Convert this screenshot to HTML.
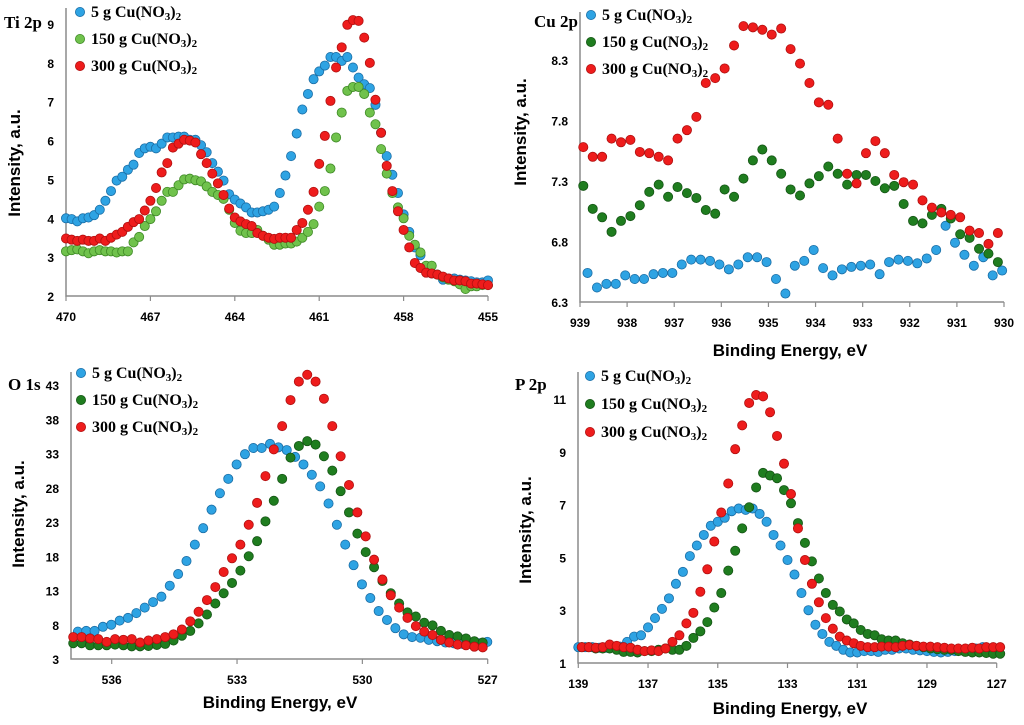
<!DOCTYPE html>
<html><head><meta charset="utf-8"><style>
body{margin:0;background:#fff;}
svg{display:block;}
.tk{font-family:"Liberation Sans",sans-serif;font-weight:bold;font-size:12px;fill:#000;}
.lg{font-family:"Liberation Serif",serif;font-weight:bold;font-size:16px;fill:#000;}
.tt{font-family:"Liberation Serif",serif;font-weight:bold;font-size:17px;fill:#000;}
.ax{font-family:"Liberation Sans",sans-serif;font-weight:bold;font-size:17px;fill:#000;}
</style></head><body>
<svg id="chart" width="1024" height="725" viewBox="0 0 1024 725" xmlns="http://www.w3.org/2000/svg"></svg>
<script>
// Ti 2p (x from 470 step -0.2)
const tiBlue=[4.0,3.98,3.92,4.0,4.02, 4.08,4.22,4.45,4.7,4.97, 5.07,5.25,5.38,5.68,5.8, 5.84,5.8,5.92,6.08,6.08, 6.1,6.1,6.02,6.02,5.88, 5.7,5.42,5.2,4.97,4.62, 4.48,4.38,4.28,4.15,4.15, 4.18,4.22,4.3,4.65,5.1, 5.6,6.18,6.8,7.2,7.58, 7.78,7.93,8.15,8.15,8.05, 8.15,7.88,7.62,7.45,7.35, 6.92,6.2,5.6,5.12,4.65, 4.1,3.65,3.25,3.05,2.75, 2.58,2.55,2.42,2.45,2.45, 2.42,2.4,2.38,2.35,2.35, 2.4];
const tiGreen=[3.15,3.18,3.2,3.15,3.1, 3.15,3.18,3.15,3.15,3.12, 3.15,3.15,3.38,3.52,3.8, 3.98,4.18,4.45,4.68,4.68, 4.85,5.0,5.02,4.98,4.95, 4.82,4.68,4.6,4.5,4.22, 3.88,3.68,3.62,3.62,3.7, 3.55,3.45,3.32,3.32,3.35, 3.35,3.4,3.5,3.65,3.85, 4.3,4.7,5.28,6.08,6.72, 7.28,7.38,7.38,7.2,6.72, 6.42,5.78,5.15,4.65,4.28, 4.0,3.55,3.32,3.12,2.78, 2.78,2.55,2.48,2.42,2.38, 2.3,2.18,2.25,2.25,2.28, 2.28];
const tiRed=[3.48,3.45,3.42,3.45,3.42, 3.42,3.48,3.42,3.5,3.58, 3.65,3.78,3.9,3.98,4.2, 4.45,4.78,5.18,5.42,5.82, 5.92,6.02,6.0,5.95,5.65, 5.42,5.15,4.9,4.6,4.25, 4.02,3.92,3.85,3.8,3.62, 3.55,3.5,3.47,3.5,3.5, 3.5,3.7,3.88,4.22,4.68, 5.4,6.12,7.02,7.88,8.4, 8.98,9.1,9.08,8.65,8.0, 7.05,6.2,5.35,4.7,4.18, 3.7,3.25,2.85,2.72,2.6, 2.58,2.55,2.5,2.45,2.4, 2.4,2.38,2.32,2.32,2.3, 2.28];
const tiXTicks=[470,467,464,461,458,455];
const tiYTicks=[2,3,4,5,6,7,8,9];
// Cu 2p
const cuBlue=[6.54,6.42,6.45,6.45,6.52,6.49,6.49,6.53,6.54,6.54,6.61,6.65,6.65,6.64,6.61,6.57,6.61,6.67,6.67,6.63,6.49,6.37,6.6,6.64,6.73,6.58,6.52,6.57,6.59,6.6,6.61,6.53,6.63,6.65,6.64,6.62,6.66,6.73,6.93,6.79,6.69,6.6,6.67,6.52,6.56];
const cuGreen=[7.26,7.07,7.0,6.88,6.97,7.01,7.1,7.21,7.27,7.17,7.25,7.2,7.16,7.06,7.03,7.23,7.17,7.32,7.47,7.56,7.47,7.36,7.23,7.18,7.28,7.34,7.42,7.36,7.27,7.35,7.35,7.3,7.24,7.26,7.11,6.97,6.95,7.02,7.07,6.99,6.86,6.83,6.74,6.7,6.63];
const cuRed=[7.58,7.5,7.5,7.65,7.62,7.64,7.54,7.53,7.5,7.47,7.65,7.72,7.83,8.11,8.15,8.23,8.42,8.58,8.57,8.55,8.51,8.56,8.39,8.27,8.11,7.95,7.93,7.65,7.36,7.28,7.53,7.63,7.53,7.35,7.29,7.27,7.14,7.08,7.04,7.02,7.0,6.89,6.87,6.78,6.87];
const cuXTicks=[939,938,937,936,935,934,933,932,931,930];
const cuYTicks=[6.3,6.8,7.3,7.8,8.3];
// O 1s
const oBlue=[7.0,7.1,7.1,7.7,8.0,8.6,9.0,9.7,10.5,11.3,12.1,13.7,15.4,17.3,19.7,22.1,24.8,27.2,29.3,31.4,32.9,33.8,33.8,34.4,33.9,33.5,32.5,31.4,29.9,28.2,25.7,22.6,19.7,16.7,13.9,11.9,10.0,8.7,7.5,6.6,6.2,6.1,5.8,5.6,5.4,5.3,5.2,5.2,5.3,5.5];
const oGreen=[5.3,5.3,5.0,5.0,5.0,5.1,5.0,4.85,4.85,4.9,5.05,5.2,5.7,6.4,7.1,8.2,9.5,11.1,12.6,14.1,15.9,18.0,20.2,23.1,26.1,29.3,32.4,34.1,34.8,34.3,32.6,30.5,27.5,24.4,21.3,18.6,16.4,14.4,12.6,11.1,9.8,9.2,8.3,7.9,7.1,6.5,6.3,6.0,5.6,5.4];
const oRed=[6.2,6.2,6.0,5.9,5.5,5.9,5.8,5.9,5.4,5.7,5.9,6.2,6.6,7.3,8.5,9.9,11.6,13.5,15.7,17.7,19.7,22.6,25.8,29.7,33.6,37.0,40.8,43.5,44.5,43.5,41.0,37.0,32.6,28.4,24.4,20.9,17.5,14.6,12.3,10.5,9.0,7.8,7.0,6.5,5.8,5.4,5.1,5.0,4.8,4.7];
const oXTicks=[536,533,530,527];
const oYTicks=[3,8,13,18,23,28,33,38,43];
// P 2p
const pBlue=[1.6,1.6,1.6,1.58,1.58, 1.6,1.62,1.8,2.0,2.05, 2.35,2.7,3.05,3.45,4.0, 4.45,5.05,5.45,5.85,6.2, 6.35,6.5,6.75,6.85,6.8, 6.85,6.65,6.35,5.85,5.45, 4.9,4.35,3.65,3.0,2.45, 2.1,1.8,1.65,1.5,1.4, 1.4,1.45,1.45,1.42,1.5, 1.5,1.55,1.55,1.5,1.48, 1.45,1.42,1.4,1.42,1.45, 1.48,1.5,1.55,1.6,1.55, 1.45];
const pGreen=[1.6,1.6,1.55,1.55,1.55, 1.5,1.42,1.42,1.4,1.45, 1.45,1.5,1.55,1.5,1.5, 1.65,1.95,2.2,2.55,3.1, 3.65,4.5,5.25,6.1,6.9, 7.65,8.2,8.1,8.0,7.55, 7.05,6.3,5.55,4.85,4.2, 3.65,3.2,2.95,2.65,2.5, 2.25,2.1,2.05,1.9,1.85, 1.85,1.75,1.7,1.65,1.6, 1.55,1.52,1.5,1.5,1.45, 1.42,1.4,1.4,1.38,1.35, 1.35];
const pRed=[1.6,1.6,1.58,1.6,1.7, 1.65,1.6,1.58,1.5,1.45, 1.48,1.45,1.55,1.8,2.05, 2.5,2.9,3.7,4.55,5.6, 6.7,7.8,9.1,10.0,10.85, 11.15,11.1,10.5,9.6,8.55, 7.4,6.1,4.9,4.0,3.3, 2.7,2.3,2.0,1.85,1.75, 1.65,1.6,1.6,1.62,1.62, 1.6,1.65,1.68,1.65,1.62, 1.62,1.6,1.58,1.55,1.55, 1.55,1.58,1.55,1.6,1.6, 1.6];
const pXTicks=[139,137,135,133,131,129,127];
const pYTicks=[1,3,5,7,9,11];

const NS='http://www.w3.org/2000/svg';
const svg=document.getElementById('chart');
function mk(tag,attrs,parent){const e=document.createElementNS(NS,tag);for(const k in attrs)e.setAttribute(k,attrs[k]);(parent||svg).appendChild(e);return e;}
const BLUE=['#2ea3e3','#1b6ea6'],RED=['#ee1c1c','#b01010'],LG=['#70c24c','#3f8a26'],DG=['#1f7d1f','#155515'];

function panel(p){
  const g=mk('g',{});
  
  
  const sx=v=>p.x0+(p.xa-v)/(p.xa-p.xb)*(p.x1-p.x0);
  const sy=v=>p.y0-(v-p.ya)/(p.yb-p.ya)*(p.y0-p.y1);
  const ax=mk('path',{d:`M${p.left} ${p.top} V${p.y0} H${p.x1}`,stroke:'#8c8c8c','stroke-width':1.5,fill:'none'},g);
  
  
  p.yt.forEach(v=>{const t=mk('text',{x:p.left-12,y:sy(v)+5,'text-anchor':'end',class:'tk'},g);t.textContent=v;
    
    });
  p.xt.forEach(v=>{
    const tm=mk('line',{x1:sx(v),x2:sx(v),y1:p.y0,y2:p.y0+5,stroke:'#8c8c8c','stroke-width':1.2},g);
    
    
    const t=mk('text',{x:sx(v),y:p.y0+25,'text-anchor':'middle',class:'tk'},g);t.textContent=v;
    
    });
  p.series.forEach((s,si)=>{
    const sg=mk('g',{},g);
    
    
    s.vals.forEach((v,i)=>{const xv=s.start+i*s.step;
      const c=mk('circle',{cx:sx(xv),cy:sy(v),r:4.6,fill:s.c[0],stroke:s.c[1],'stroke-width':0.8},sg);
      
      });
  });
  p.series.forEach((s,si)=>{
    const ly=p.leg[1]+si*p.leg[2];
    const c=mk('circle',{cx:p.leg[0],cy:ly,r:4.6,fill:s.c[0],stroke:s.c[1],'stroke-width':0.8},g);
    
    
    const t=mk('text',{x:p.leg[0]+11,y:ly+5,class:'lg'},g);
    t.innerHTML=s.label.replace('NO3)2','NO<tspan font-size="11" dy="3">3</tspan><tspan dy="-3">)</tspan><tspan font-size="11" dy="3">2</tspan>');
    
    
  });
  const ti=mk('text',{x:p.title[0],y:p.title[1],class:'tt'},g);ti.textContent=p.titleText;
  
  
  const yl=mk('text',{x:0,y:0,class:'ax','text-anchor':'middle',transform:`translate(${p.ylab[0]},${p.ylab[1]}) rotate(-90)`},g);yl.textContent='Intensity, a.u.';
  
  
  if(p.xlab){const xl=mk('text',{x:p.xlab[0],y:p.xlab[1],class:'ax','text-anchor':'middle'},g);xl.textContent='Binding Energy, eV';
    
    }
}
const L5='5 g Cu(NO3)2',L150='150 g Cu(NO3)2',L300='300 g Cu(NO3)2';
panel({name:'ti-2p-panel',titleText:'Ti 2p',title:[4,28],left:66,top:8,x0:66,x1:488,xa:470,xb:455,y0:296,y1:24,ya:2,yb:9,xt:tiXTicks,yt:tiYTicks,
  leg:[80,12,27],ylab:[20,163],xlab:null,
  series:[{label:L5,vals:tiBlue,start:470,step:-0.2,c:BLUE},{label:L150,vals:tiGreen,start:470,step:-0.2,c:LG},{label:L300,vals:tiRed,start:470,step:-0.2,c:RED}]});
panel({name:'cu-2p-panel',titleText:'Cu 2p',title:[534,27],left:580,top:12,x0:580,x1:1004,xa:939,xb:930,y0:302,y1:60,ya:6.3,yb:8.3,xt:cuXTicks,yt:cuYTicks,
  leg:[591,15,27],ylab:[526,132],xlab:[790,356],
  series:[{label:L5,vals:cuBlue,start:938.84,step:-0.2,c:BLUE},{label:L150,vals:cuGreen,start:938.93,step:-0.2,c:DG},{label:L300,vals:cuRed,start:938.93,step:-0.2,c:RED}]});
panel({name:'o-1s-panel',titleText:'O 1s',title:[8,390],left:71,top:372,x0:111.7,x1:487.7,xa:536,xb:527,y0:659,y1:385,ya:3,yb:43,xt:oXTicks,yt:oYTicks,
  leg:[81,373,27],ylab:[24,514],xlab:[280,708],
  series:[{label:L5,vals:oBlue,start:536.81,step:-0.2,c:BLUE},{label:L150,vals:oGreen,start:536.92,step:-0.2,c:DG},{label:L300,vals:oRed,start:536.92,step:-0.2,c:RED}]});
panel({name:'p-2p-panel',titleText:'P 2p',title:[515,390],left:578,top:372,x0:578.3,x1:996.7,xa:139,xb:127,y0:663,y1:399,ya:1,yb:11,xt:pXTicks,yt:pYTicks,
  leg:[590,376,28],ylab:[531,530],xlab:[790,714],
  series:[{label:L5,vals:pBlue,start:139,step:-0.2,c:BLUE},{label:L150,vals:pGreen,start:138.9,step:-0.2,c:DG},{label:L300,vals:pRed,start:138.9,step:-0.2,c:RED}]});
</script>
</body></html>
